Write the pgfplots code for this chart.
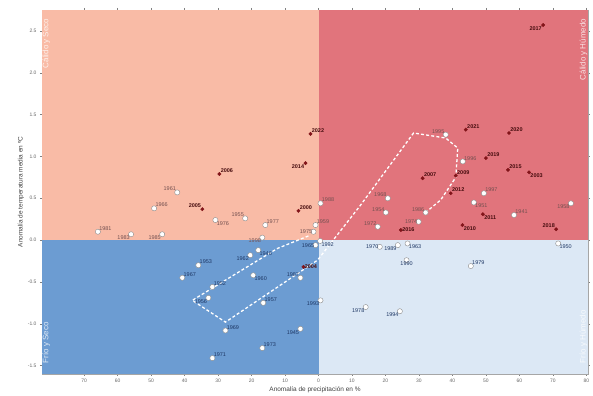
\documentclass[border=0pt]{standalone}
\usepackage{pgfplots}
\pgfplotsset{compat=1.18}
\usepackage{fontspec}
\setmainfont{Liberation Sans}

\definecolor{qTL}{RGB}{249,187,166}
\definecolor{qTR}{RGB}{225,116,124}
\definecolor{qBL}{RGB}{108,156,210}
\definecolor{qBR}{RGB}{220,232,245}
\definecolor{recent}{RGB}{130,20,25}
\definecolor{recentlab}{RGB}{70,12,14}
\definecolor{oldtop}{RGB}{115,80,80}
\definecolor{oldbot}{RGB}{30,55,100}

\pgfplotsset{
  yrs/.style={
    only marks,
    nodes near coords,
    point meta=explicit symbolic,
    visualization depends on={value \thisrow{anc}\as\anc},
    every node near coord/.append style={anchor=\anc, font=\fontsize{5.5}{6.5}\selectfont, inner sep=1.2pt},
  },
}
\tikzset{quad/.style={rotate=90, text=white, text opacity=0.8, font=\fontsize{8}{9}\selectfont}}

\begin{document}
\begin{tikzpicture}
\useasboundingbox (0,0) rectangle (593bp,396bp);
\begin{axis}[
  at={(42bp,22bp)}, anchor=south west,
  scale only axis, width=546bp, height=364bp,
  xmin=-82.6, xmax=80.5, ymin=-1.6, ymax=2.75,
  xtick={-70,-60,...,80},
  xticklabels={70,60,50,40,30,20,10,0,10,20,30,40,50,60,70,80},
  ytick={-1.5,-1,...,2.5},
  yticklabel style={/pgf/number format/.cd,fixed,fixed zerofill,precision=1},
  /pgf/number format/assume math mode=true,
  ticklabel style={font=\fontsize{5}{6}\selectfont, text=black!60},
  tick align=outside, major tick length=2bp,
  tick style={black!50, line width=0.4pt},
  axis line style={black!35, line width=0.5pt},
  xlabel={Anomalía de precipitación en \%},
  ylabel={Anomalía de temperatura media en ºC},
  label style={font=\fontsize{6.5}{8}\selectfont, text=black!75},
  xlabel style={yshift=3bp},
  ylabel style={yshift=-3bp},
]
\fill[qTL] (axis cs:-82.6,0) rectangle (axis cs:0,2.75);
\fill[qTR] (axis cs:0,0) rectangle (axis cs:80.5,2.75);
\fill[qBL] (axis cs:-82.6,-1.6) rectangle (axis cs:0,0);
\fill[qBR] (axis cs:0,-1.6) rectangle (axis cs:80.5,0);

% moving average trajectory
\addplot[white, line width=1.3pt, dash pattern=on 3pt off 2.2pt, no marks] coordinates {
(-3.0,0.05) (-12.3,-0.10) (-37.7,-0.72) (-27.8,-0.98) (-0.3,-0.24) (12.6,0.42)
(28.4,1.28) (38.0,1.22) (41.6,1.10) (41.0,0.75) (36.5,0.48) (32.0,0.33)
};

% older years, warm half
\addplot[yrs, mark=*, mark size=2.6pt, mark options={fill=white, draw=black!45, line width=0.4pt},
  every node near coord/.append style={text=oldtop}]
  table[x=x,y=y,meta=lab]{
x y lab anc
-42.2 0.57 1961 {south east}
-49.1 0.38 1966 {south west}
-21.9 0.26 1955 {south east}
-30.8 0.24 1976 {north west}
-15.9 0.18 1977 {south west}
-65.9 0.10 1981 {south west}
-56.0 0.07 1983 {north east}
-46.7 0.07 1985 {north east}
-16.8 0.03 1998 {north east}
-1.5 0.10 1975 east
38.0 1.26 1995 {south east}
43.1 0.94 1996 {south west}
49.4 0.56 1997 {south west}
0.6 0.44 1988 {south west}
-0.9 0.18 1959 {south west}
20.7 0.50 1968 {south east}
20.1 0.33 1954 {south east}
17.7 0.16 1972 {south east}
32.0 0.33 1986 {south east}
29.9 0.22 1974 east
46.4 0.45 1951 {north west}
58.4 0.30 1941 {south west}
75.4 0.44 1958 {north east}
};

% older years, cold half
\addplot[yrs, mark=*, mark size=2.6pt, mark options={fill=white, draw=black!45, line width=0.4pt},
  every node near coord/.append style={text=oldbot}]
  table[x=x,y=y,meta=lab]{
x y lab anc
-35.9 -0.30 1953 {south west}
-40.7 -0.45 1967 {south west}
-20.4 -0.18 1962 {north east}
-18.0 -0.12 1946 {north west}
-31.7 -0.56 1952 {south west}
-19.5 -0.42 1960 {north west}
-32.9 -0.69 1956 {north east}
-16.5 -0.75 1957 {south west}
-27.8 -1.08 1969 {south west}
-31.7 -1.41 1971 {south west}
-16.8 -1.29 1973 {south west}
-5.4 -1.06 1945 {north east}
0.6 -0.72 1993 {north east}
-5.4 -0.45 1987 {south east}
-0.9 -0.06 1965 east
0.5 -0.01 1992 {north west}
18.3 -0.08 1970 east
26.6 -0.04 1963 {north west}
23.7 -0.06 1989 {north east}
26.3 -0.24 1990 north
45.5 -0.31 1979 {south west}
14.1 -0.80 1978 {north east}
24.3 -0.85 1994 {north east}
71.6 -0.04 1950 {north west}
};

% recent years (filled)
\addplot[yrs, mark=*, mark size=1.7pt, mark options={fill=recent, draw=recent},
  every node near coord/.append style={text=recentlab, font=\fontsize{5.5}{6.5}\selectfont\bfseries}]
  table[x=x,y=y,meta=lab]{
x y lab anc
67.1 2.57 2017 {north east}
-2.4 1.27 2022 {south west}
-3.9 0.92 2014 {north east}
-29.6 0.79 2006 {south west}
-34.7 0.37 2005 {south east}
-6.0 0.35 2000 {south west}
44.0 1.32 2021 {south west}
56.9 1.28 2020 {south west}
50.0 0.98 2019 {south west}
41.0 0.77 2009 {south west}
56.6 0.84 2015 {south west}
31.1 0.74 2007 {south west}
62.9 0.81 2003 {north west}
39.5 0.56 2012 {south west}
49.1 0.31 2011 {north west}
71.0 0.13 2018 {south east}
43.0 0.18 2010 {north west}
24.6 0.12 2016 west
-4.5 -0.32 2004 west
};

\node[quad, anchor=east] at (axis description cs:0.008,0.985) {Cálido y Seco};
\node[quad, anchor=west] at (axis description cs:0.008,0.02) {Frío y Seco};
\node[quad, anchor=east] at (axis description cs:0.992,0.985) {Cálido y Húmedo};
\node[quad, anchor=west] at (axis description cs:0.992,0.02) {Frío y Húmedo};
\end{axis}
\end{tikzpicture}
\end{document}
